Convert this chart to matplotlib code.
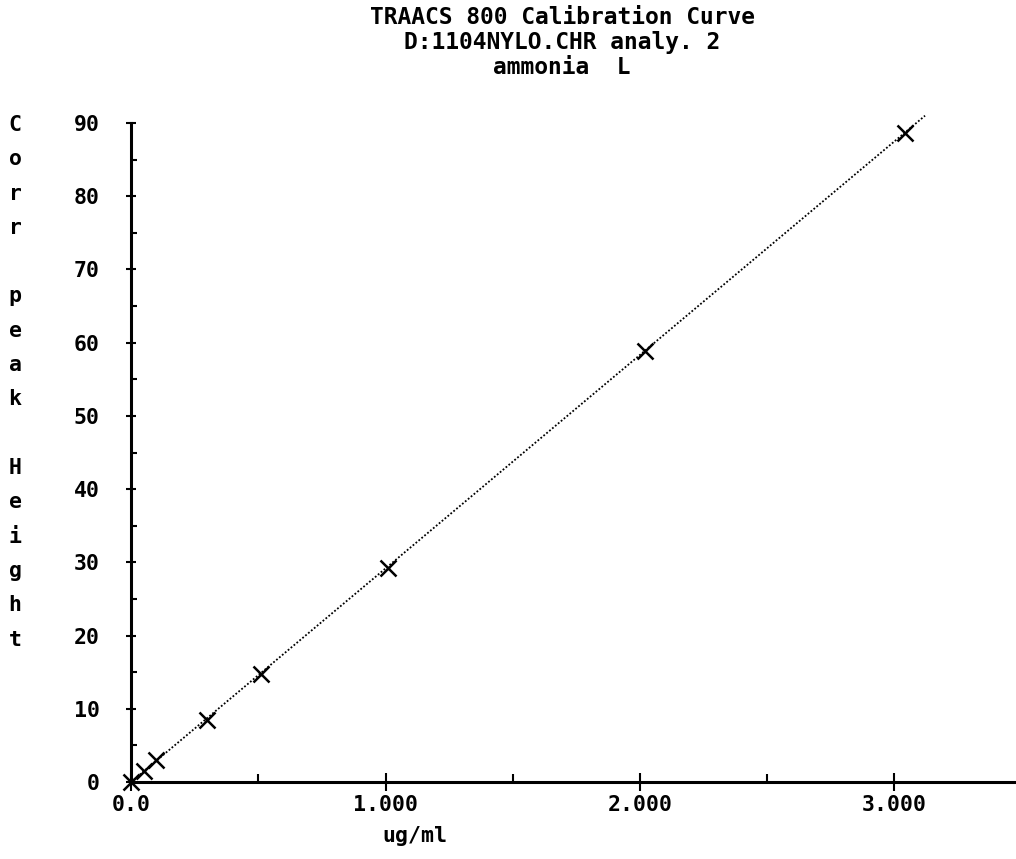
import matplotlib
matplotlib.use("Agg")
import matplotlib.pyplot as plt
from matplotlib.ticker import MultipleLocator, FixedLocator

# ---- data ----
conc = [0.0, 0.05, 0.10, 0.30, 0.51, 1.01, 2.02, 3.04]
peak = [0.0, 1.5, 3.0, 8.5, 14.8, 29.2, 58.9, 88.6]
fit_x = [0.0, 3.12]
fit_y = [0.0, 91.0]
xticks = [0.0, 1.0, 2.0, 3.0]
xticklabels = ["0.0", "1.000", "2.000", "3.000"]
yticks = [0, 10, 20, 30, 40, 50, 60, 70, 80, 90]
yticklabels = [str(v) for v in yticks]
title_lines = ["TRAACS 800 Calibration Curve", "D:1104NYLO.CHR analy. 2", "ammonia  L"]
ylabel_text = "Corr peak Height"
xlabel_text = "ug/ml"

FONT = "DejaVu Sans Mono"
W, H = 1016, 859
fig = plt.figure(figsize=(W / 100, H / 100), dpi=100)
ax = fig.add_axes([131 / W, (H - 782) / H, (W - 131) / W, (782 - 123) / H])

ax.plot(fit_x, fit_y, color="black", lw=1.3, ls=(0, (1, 1.1)), clip_on=False)
ax.plot(conc, peak, ls="none", marker="x", ms=11, mew=1.8, color="black", clip_on=False)

ax.set_xlim(0, (W - 131) / 254.5)
ax.set_ylim(0, 90)

for s in ["top", "right"]:
    ax.spines[s].set_visible(False)
for s in ["left", "bottom"]:
    ax.spines[s].set_linewidth(2.2)

ax.xaxis.set_major_locator(FixedLocator(xticks))
ax.set_xticklabels(xticklabels, fontfamily=FONT, fontweight="bold", fontsize=15.5)
ax.xaxis.set_minor_locator(FixedLocator([0.5, 1.5, 2.5]))
ax.yaxis.set_major_locator(FixedLocator(yticks))
ax.set_yticklabels(yticklabels, fontfamily=FONT, fontweight="bold", fontsize=15.5)
ax.yaxis.set_minor_locator(MultipleLocator(5))

ax.tick_params(axis="x", which="major", direction="inout", length=13, width=1.5, pad=3)
ax.tick_params(axis="x", which="minor", direction="in", length=6, width=1.5)
ax.tick_params(axis="y", which="major", direction="inout", length=7, width=1.5, pad=19)
ax.tick_params(axis="y", which="minor", direction="in", length=4, width=1.5)

# title
for i, line in enumerate(title_lines):
    fig.text(562 / W, 1 - (18 + i * 25) / H, line, ha="center", va="center",
             fontfamily=FONT, fontweight="bold", fontsize=16.5)

# x label
fig.text(415 / W, 1 - 836 / H, xlabel_text, ha="center", va="center",
         fontfamily=FONT, fontweight="bold", fontsize=15.5)

# stacked vertical y label
for i, ch in enumerate(ylabel_text):
    if ch == " ":
        continue
    fig.text(15 / W, 1 - (125 + i * 34.3) / H, ch, ha="center", va="center",
             fontfamily=FONT, fontweight="bold", fontsize=15.5)

fig.savefig("out.png", dpi=100, facecolor="white")
